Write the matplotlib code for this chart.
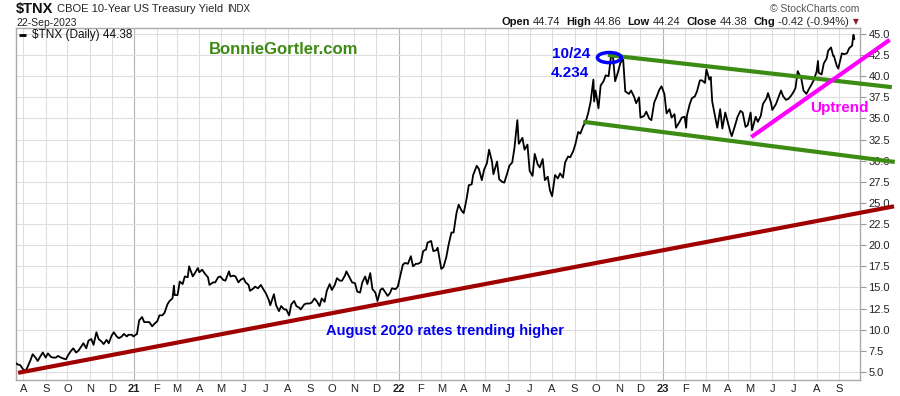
import matplotlib
matplotlib.use('Agg')
import matplotlib.pyplot as plt
import matplotlib.dates as mdates
import pandas as pd
from matplotlib.patches import Ellipse
from matplotlib.lines import Line2D

FONT = 'Liberation Sans'

# ---- data: $TNX (10-yr yield x10) ----
dates = [
 '2020-07-21','2020-07-24','2020-07-28','2020-07-31','2020-08-04','2020-08-07','2020-08-11','2020-08-14',
 '2020-08-18','2020-08-21','2020-08-25','2020-08-28','2020-09-01','2020-09-04','2020-09-08','2020-09-11',
 '2020-09-15','2020-09-18','2020-09-22','2020-09-25','2020-09-29','2020-10-02','2020-10-06','2020-10-09',
 '2020-10-13','2020-10-16','2020-10-20','2020-10-23','2020-10-27','2020-10-30','2020-11-03','2020-11-06',
 '2020-11-10','2020-11-13','2020-11-17','2020-11-20','2020-11-24','2020-11-27','2020-12-01','2020-12-04',
 '2020-12-08','2020-12-11','2020-12-15','2020-12-18','2020-12-22','2020-12-24','2020-12-29','2020-12-31',
 '2021-01-05','2021-01-08','2021-01-12','2021-01-15','2021-01-19','2021-01-22','2021-01-26','2021-01-29',
 '2021-02-02','2021-02-05','2021-02-09','2021-02-12','2021-02-16','2021-02-19','2021-02-23','2021-02-25',
 '2021-02-26','2021-03-02','2021-03-05','2021-03-09','2021-03-12','2021-03-16','2021-03-18','2021-03-23',
 '2021-03-26','2021-03-30','2021-04-01','2021-04-05','2021-04-09','2021-04-13','2021-04-15','2021-04-20',
 '2021-04-23','2021-04-27','2021-04-30','2021-05-04','2021-05-07','2021-05-12','2021-05-14','2021-05-18',
 '2021-05-21','2021-05-25','2021-05-28','2021-06-01','2021-06-04','2021-06-08','2021-06-10','2021-06-15',
 '2021-06-17','2021-06-21','2021-06-25','2021-06-29','2021-07-02','2021-07-06','2021-07-08','2021-07-13',
 '2021-07-16','2021-07-20','2021-07-23','2021-07-27','2021-07-30','2021-08-03','2021-08-06','2021-08-10',
 '2021-08-13','2021-08-17','2021-08-19','2021-08-24','2021-08-27','2021-08-31','2021-09-03','2021-09-07',
 '2021-09-10','2021-09-14','2021-09-17','2021-09-21','2021-09-24','2021-09-28','2021-10-01','2021-10-05',
 '2021-10-08','2021-10-12','2021-10-15','2021-10-19','2021-10-21','2021-10-26','2021-10-29','2021-11-02',
 '2021-11-05','2021-11-09','2021-11-12','2021-11-16','2021-11-19','2021-11-23','2021-11-26','2021-11-30',
 '2021-12-03','2021-12-07','2021-12-10','2021-12-14','2021-12-17','2021-12-20','2021-12-23','2021-12-28',
 '2021-12-31',
 '2022-01-04','2022-01-07','2022-01-10','2022-01-14','2022-01-18','2022-01-21','2022-01-25','2022-01-28',
 '2022-02-01','2022-02-04','2022-02-08','2022-02-10','2022-02-15','2022-02-18','2022-02-22','2022-02-24',
 '2022-03-01','2022-03-04','2022-03-08','2022-03-11','2022-03-15','2022-03-18','2022-03-22','2022-03-25',
 '2022-03-29','2022-04-01','2022-04-05','2022-04-08','2022-04-12','2022-04-14','2022-04-19','2022-04-22',
 '2022-04-26','2022-04-29','2022-05-03','2022-05-06','2022-05-10','2022-05-12','2022-05-17','2022-05-20',
 '2022-05-24','2022-05-27','2022-05-31','2022-06-03','2022-06-07','2022-06-10','2022-06-14','2022-06-16',
 '2022-06-21','2022-06-24','2022-06-28','2022-07-01','2022-07-05','2022-07-08','2022-07-12','2022-07-15',
 '2022-07-19','2022-07-22','2022-07-26','2022-07-29','2022-08-01','2022-08-05','2022-08-09','2022-08-12',
 '2022-08-16','2022-08-19','2022-08-23','2022-08-26','2022-08-30','2022-09-02','2022-09-06','2022-09-09',
 '2022-09-13','2022-09-16','2022-09-20','2022-09-23','2022-09-27','2022-09-28','2022-09-30','2022-10-04',
 '2022-10-07','2022-10-11','2022-10-14','2022-10-18','2022-10-21','2022-10-24','2022-10-27','2022-10-31',
 '2022-11-03','2022-11-07','2022-11-10','2022-11-15','2022-11-18','2022-11-22','2022-11-25','2022-11-29',
 '2022-12-01','2022-12-06','2022-12-09','2022-12-13','2022-12-16','2022-12-20','2022-12-23','2022-12-27',
 '2022-12-30',
 '2023-01-03','2023-01-06','2023-01-10','2023-01-13','2023-01-17','2023-01-19','2023-01-24','2023-01-27',
 '2023-01-31','2023-02-02','2023-02-03','2023-02-07','2023-02-10','2023-02-14','2023-02-17','2023-02-21',
 '2023-02-24','2023-02-28','2023-03-02','2023-03-06','2023-03-08','2023-03-10','2023-03-13','2023-03-15',
 '2023-03-17','2023-03-21','2023-03-24','2023-03-28','2023-03-31','2023-04-04','2023-04-06','2023-04-11',
 '2023-04-14','2023-04-18','2023-04-21','2023-04-25','2023-04-28','2023-05-02','2023-05-04','2023-05-09',
 '2023-05-12','2023-05-16','2023-05-19','2023-05-24','2023-05-26','2023-05-30','2023-06-01','2023-06-06',
 '2023-06-09','2023-06-13','2023-06-16','2023-06-20','2023-06-23','2023-06-27','2023-06-30','2023-07-03',
 '2023-07-06','2023-07-11','2023-07-14','2023-07-18','2023-07-21','2023-07-25','2023-07-28','2023-08-01',
 '2023-08-03','2023-08-04','2023-08-08','2023-08-11','2023-08-15','2023-08-17','2023-08-21','2023-08-24',
 '2023-08-25','2023-08-29','2023-08-31','2023-09-05','2023-09-08','2023-09-12','2023-09-15','2023-09-19',
 '2023-09-21','2023-09-22',
]
values = [
 6.1, 5.9, 5.8, 5.4, 5.1, 5.6, 6.4, 7.1,
 6.7, 6.3, 6.9, 7.3, 6.7, 7.2, 6.8, 6.7,
 6.7, 6.9, 6.7, 6.6, 6.5, 7.0, 7.5, 7.8,
 7.3, 7.5, 8.0, 8.4, 7.8, 8.7, 8.9, 8.2,
 9.7, 8.9, 8.6, 8.3, 8.8, 8.4, 9.3, 9.7,
 9.2, 9.0, 9.2, 9.5, 9.2, 9.4, 9.4, 9.2,
 9.5, 11.1, 11.5, 10.9, 10.9, 10.9, 10.4, 10.7,
 11.0, 11.7, 11.7, 12.0, 13.0, 13.4, 13.7, 15.2,
 14.1, 14.1, 15.7, 15.4, 16.3, 16.2, 17.5, 16.3,
 16.7, 17.3, 16.8, 17.1, 16.6, 16.2, 15.3, 15.6,
 15.6, 16.2, 16.3, 15.9, 15.8, 16.9, 16.3, 16.4,
 16.3, 15.6, 15.9, 16.1, 15.6, 15.3, 14.6, 14.9,
 15.1, 14.9, 15.3, 14.7, 14.3, 13.5, 12.9, 14.2,
 12.9, 12.2, 12.8, 12.4, 12.4, 11.7, 13.0, 13.4,
 12.8, 12.6, 12.4, 13.0, 13.1, 13.1, 13.2, 13.7,
 13.4, 12.8, 13.7, 13.3, 14.6, 15.4, 14.7, 15.3,
 16.1, 15.8, 15.8, 16.4, 16.9, 16.1, 15.6, 15.5,
 14.5, 14.4, 15.6, 16.3, 15.4, 16.7, 14.8, 14.4,
 13.4, 14.7, 14.9, 14.4, 14.0, 14.3, 14.9, 14.8,
 15.1,
 16.6, 17.7, 17.9, 17.8, 18.7, 17.5, 17.8, 17.8,
 18.0, 19.3, 19.5, 20.3, 20.5, 19.3, 19.4, 19.7,
 17.2, 17.4, 18.6, 20.0, 21.5, 21.5, 23.8, 24.8,
 24.1, 23.8, 25.5, 27.1, 27.2, 28.3, 29.4, 29.0,
 27.7, 28.9, 29.7, 31.3, 29.9, 28.4, 29.9, 27.8,
 27.5, 27.4, 28.5, 29.4, 29.8, 31.5, 34.8, 32.0,
 32.7, 31.3, 31.9, 28.8, 28.2, 30.8, 29.6, 29.2,
 30.2, 27.7, 28.1, 26.5, 25.8, 28.3, 27.9, 28.5,
 28.0, 29.8, 30.5, 30.4, 31.1, 31.9, 33.4, 33.2,
 34.1, 34.5, 35.7, 36.9, 39.6, 37.0, 38.3, 36.2,
 38.9, 39.4, 40.1, 40.0, 42.2, 42.3, 39.4, 40.5,
 41.5, 42.1, 38.2, 37.9, 38.3, 37.6, 36.8, 37.5,
 35.1, 35.3, 35.8, 35.0, 34.8, 36.9, 37.5, 38.4,
 38.8,
 37.9, 35.6, 36.1, 35.1, 35.5, 33.9, 34.6, 35.1,
 35.2, 33.9, 35.3, 36.7, 37.4, 37.6, 38.2, 39.5,
 39.5, 39.2, 40.8, 39.6, 39.9, 37.0, 35.7, 34.9,
 33.9, 36.1, 33.8, 35.7, 34.7, 33.4, 32.9, 34.3,
 35.2, 35.9, 35.7, 34.0, 34.2, 35.7, 33.6, 35.2,
 34.6, 35.3, 36.7, 37.4, 38.0, 36.9, 36.0, 36.7,
 37.4, 38.3, 37.6, 37.2, 37.3, 37.7, 38.1, 38.6,
 40.6, 39.7, 38.3, 37.9, 38.4, 39.0, 39.5, 40.5,
 41.8, 40.4, 40.2, 41.5, 42.1, 43.0, 43.4, 42.4,
 42.4, 41.2, 40.9, 42.7, 42.6, 42.7, 43.3, 43.6,
 44.9, 44.4,
]

# annotation trend lines (date, value endpoints)
red_trend_dates = ['2020-07-25', '2023-11-16']
red_trend_values = [4.9, 24.6]
green_upper_dates = ['2022-10-17', '2023-11-13']
green_upper_values = [42.5, 38.7]
green_lower_dates = ['2022-09-13', '2023-11-17']
green_lower_values = [34.6, 29.85]
magenta_dates = ['2023-05-03', '2023-11-10']
magenta_values = [32.8, 44.3]

yticks = [5.0, 7.5, 10.0, 12.5, 15.0, 17.5, 20.0, 22.5, 25.0, 27.5, 30.0,
          32.5, 35.0, 37.5, 40.0, 42.5, 45.0]
month_letters = ['J', 'F', 'M', 'A', 'M', 'J', 'J', 'A', 'S', 'O', 'N', 'D']

W, H = 900, 396
fig = plt.figure(figsize=(W / 100, H / 100), dpi=100)
def fx(px): return px / W
def fy(py): return 1 - py / H

ax = fig.add_axes([fx(16), fy(380), 844 / W, 352 / H])

ax.plot(pd.to_datetime(dates), values, color='black', lw=1.3, zorder=5)

ax.set_xlim(pd.Timestamp('2020-07-22'), pd.Timestamp('2023-09-30'))
ax.set_ylim(4.05, 45.7)

# grid
month_starts = pd.date_range('2020-08-01', '2023-09-01', freq='MS')
for d in month_starts:
    c = '#b4b4b4' if d.month == 1 else '#dedede'
    ax.axvline(d, color=c, lw=0.8, zorder=0)
for y in yticks:
    ax.axhline(y, color='#dedede', lw=0.8, zorder=0)

ax.set_xticks(month_starts)
labels = []
for d in month_starts:
    labels.append(f"{d.year % 100:02d}" if d.month == 1 else month_letters[d.month - 1])
ax.set_xticklabels(labels, fontsize=8, family=FONT)
for lab, d in zip(ax.get_xticklabels(), month_starts):
    if d.month == 1:
        lab.set_fontweight('bold')
ax.tick_params(axis='x', length=0, pad=3, colors='#222222')

ax.yaxis.tick_right()
ax.set_yticks(yticks)
ax.set_yticklabels([f"{v:.1f}" for v in yticks], fontsize=8, family=FONT)
ax.tick_params(axis='y', length=4, width=0.8, color='#999999', pad=2, labelcolor='#222222')

for s in ax.spines.values():
    s.set_color('#aaaaaa')
    s.set_linewidth(1.0)

# trend lines
lw_tr = 3
for dd, vv, col in [(red_trend_dates, red_trend_values, '#a00000'),
                    (green_upper_dates, green_upper_values, '#3c8c14'),
                    (green_lower_dates, green_lower_values, '#3c8c14'),
                    (magenta_dates, magenta_values, '#ff00ff')]:
    ax.plot(pd.to_datetime(dd), vv, color=col, lw=lw_tr, clip_on=False, zorder=6,
            solid_capstyle='butt')

ell = Ellipse((mdates.date2num(pd.Timestamp('2022-10-19')), 42.2), width=33, height=1.2,
              fill=False, edgecolor='#0000ff', lw=2.5, zorder=7)
ax.add_patch(ell)

# annotation texts
fig.text(fx(284), fy(50), 'BonnieGortler.com', color='#3c8c14', fontsize=12, fontweight='bold',
         family=FONT, ha='center', va='center')
fig.text(fx(571), fy(54), '10/24', color='#0000ee', fontsize=11, fontweight='bold',
         family=FONT, ha='center', va='center')
fig.text(fx(570), fy(73), '4.234', color='#0000ee', fontsize=11, fontweight='bold',
         family=FONT, ha='center', va='center')
fig.text(fx(839), fy(108), 'Uptrend', color='#ff00ff', fontsize=11, fontweight='bold',
         family=FONT, ha='center', va='center')
fig.text(fx(445), fy(331), 'August 2020 rates trending higher', color='#0000ee', fontsize=10.5,
         fontweight='bold', family=FONT, ha='center', va='center')

# legend
fig.add_artist(Line2D([fx(19), fx(26)], [fy(35), fy(35)], color='black', lw=2,
                      solid_capstyle='butt'))
fig.text(fx(32), fy(35), '$TNX (Daily) 44.38', color='#111111', fontsize=8.5,
         family=FONT, ha='left', va='center')

# header
renderer = fig.canvas.get_renderer()
def seq(x0, y, pieces, right=False):
    texts = []
    x = x0
    for s, wt, sz, col, gap in pieces:
        t = fig.text(fx(x), fy(y), s, fontsize=sz, fontweight=wt, color=col, family=FONT,
                     ha='left', va='center')
        texts.append((t, x))
        x += t.get_window_extent(renderer=renderer).width + gap
    if right:
        shift = x0 - x
        for t, xx in texts:
            t.set_x(fx(xx + shift))
    return x

seq(16, 9, [('$TNX', 'bold', 10.5, '#111111', 4),
            ('CBOE 10-Year US Treasury Yield', 'normal', 8, '#222222', 4),
            ('INDX', 'normal', 7, '#222222', 0)])
fig.text(fx(16), fy(22.5), '22-Sep-2023', fontsize=7.5, family=FONT, color='#222222',
         ha='left', va='center')
fig.text(fx(859), fy(9), '\u00a9 StockCharts.com', fontsize=7.5, family=FONT, color='#555555',
         ha='right', va='center')
seq(849, 22, [('Open', 'bold', 8, '#111111', 3), ('44.74', 'normal', 8, '#222222', 6),
              ('High', 'bold', 8, '#111111', 3), ('44.86', 'normal', 8, '#222222', 6),
              ('Low', 'bold', 8, '#111111', 3), ('44.24', 'normal', 8, '#222222', 6),
              ('Close', 'bold', 8, '#111111', 3), ('44.38', 'normal', 8, '#222222', 6),
              ('Chg', 'bold', 8, '#111111', 3), ('-0.42 (-0.94%)', 'normal', 8, '#222222', 0)],
    right=True)
fig.text(fx(856), fy(22), '\u25bc', fontsize=5.5, family='DejaVu Sans', color='#8b1a2a',
         ha='center', va='center')

fig.savefig('out.png', dpi=100)
